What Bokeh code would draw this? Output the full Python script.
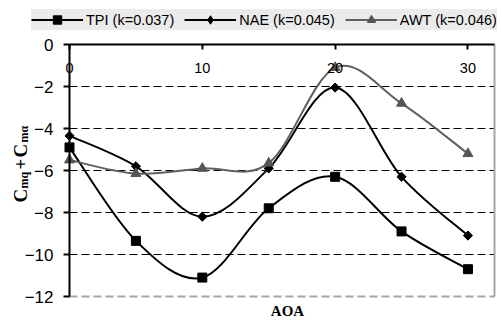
import numpy as np
from math import pi
from bokeh.plotting import figure
from bokeh.models import (LinearAxis, FixedTicker, Range1d, Legend, LegendItem,
                          Label, ColumnDataSource)
from bokeh.embed import file_html
from bokeh.resources import INLINE

# ---- data ----
aoa = [0, 5, 10, 15, 20, 25, 30]
tpi = [-4.9, -9.35, -11.1, -7.8, -6.3, -8.9, -10.7]
nae = [-4.35, -5.8, -8.2, -5.9, -2.05, -6.3, -9.1]
awt = [-5.5, -6.15, -5.9, -5.65, -1.1, -2.8, -5.2]
series_names = ["TPI (k=0.037)", "NAE (k=0.045)", "AWT (k=0.046)"]
x_ticks = [0, 10, 20, 30]
y_ticks = [-12, -10, -8, -6, -4, -2, 0]
grid_ticks = [-10, -8, -6, -4, -2]
x_label = "AOA"
x_lim = (0, 32)
y_lim = (-12, 0)

SANS = "Liberation Sans"
SERIF = "Liberation Serif"

W, H = 502, 320
# pixel placement of the plotting area inside the canvas
PX_LEFT, PX_RIGHT, PX_TOP, PX_BOTTOM = 69, 494, 44, 296


def bezier_source(x, y):
    """Smooth (Catmull-Rom style) cubic segments between the data points."""
    x = np.asarray(x, float)
    y = np.asarray(y, float)
    n = len(x)
    xp = np.concatenate([[x[0]], x, [x[-1]]])
    yp = np.concatenate([[y[0]], y, [y[-1]]])
    return ColumnDataSource(dict(
        x0=x[:-1], y0=y[:-1], x1=x[1:], y1=y[1:],
        cx0=x[:-1] + (xp[2:n + 1] - xp[0:n - 1]) / 6.0,
        cy0=y[:-1] + (yp[2:n + 1] - yp[0:n - 1]) / 6.0,
        cx1=x[1:] - (xp[3:n + 2] - xp[1:n]) / 6.0,
        cy1=y[1:] - (yp[3:n + 2] - yp[1:n]) / 6.0,
    ))


# ranges chosen so the frame fills the canvas and the data area lands where it should
sx = (PX_RIGHT - PX_LEFT) / (x_lim[1] - x_lim[0])
sy = (PX_BOTTOM - PX_TOP) / (y_lim[1] - y_lim[0])
xr = Range1d(x_lim[0] - PX_LEFT / sx, x_lim[1] + (W - PX_RIGHT) / sx)
yr = Range1d(y_lim[0] - (H - PX_BOTTOM) / sy, y_lim[1] + PX_TOP / sy)

p = figure(width=W, height=H, x_range=xr, y_range=yr,
           output_backend="svg", toolbar_location=None,
           x_axis_location=None, y_axis_location=None,
           min_border=0)
p.outline_line_color = None
p.background_fill_color = "white"
p.border_fill_color = "white"
p.xgrid.visible = False
p.ygrid.visible = False

# horizontal dashed grid lines, limited to the plot area
n_g = len(grid_ticks)
p.segment(x0=[x_lim[0]] * n_g, y0=grid_ticks, x1=[x_lim[1]] * n_g, y1=grid_ticks,
          line_color="black", line_width=1, line_dash="8 4")
# plot-area edges (gray): bottom dashed, right solid
p.segment(x0=[x_lim[0]], y0=[y_lim[0]], x1=[x_lim[1]], y1=[y_lim[0]],
          line_color="#a6a6a6", line_width=2, line_dash="8 4")
p.segment(x0=[x_lim[1]], y0=[y_lim[0]], x1=[x_lim[1]], y1=[y_lim[1]],
          line_color="#a6a6a6", line_width=2)

# y axis on x = 0
yax = LinearAxis(fixed_location=0, bounds=y_lim, ticker=FixedTicker(ticks=y_ticks),
                 axis_line_width=2, axis_line_color="black",
                 major_tick_line_width=2, major_tick_out=6, major_tick_in=0,
                 minor_tick_line_color=None, major_label_text_font=SANS,
                 major_label_text_font_size="17px", major_label_standoff=10,
                 major_label_text_color="black")
p.add_layout(yax, "left")

# x axis sitting on y = 0 (top of plot), labels below it
xax = LinearAxis(fixed_location=0, bounds=x_lim, ticker=FixedTicker(ticks=x_ticks),
                 axis_line_width=2, axis_line_color="black", major_tick_line_width=2,
                 major_tick_out=5, major_tick_in=0, minor_tick_line_color=None,
                 major_label_text_font=SANS, major_label_text_font_size="14.5px",
                 major_label_standoff=13, major_label_text_color="black")
p.add_layout(xax, "below")

styles = [
    dict(y=tpi, color="black", mcolor="black", marker="square", size=9),
    dict(y=nae, color="black", mcolor="black", marker="diamond", size=8),
    dict(y=awt, color="#606060", mcolor="#555555", marker="triangle", size=10),
]

items = []
for name, st in zip(series_names, styles):
    bz = p.bezier(x0="x0", y0="y0", x1="x1", y1="y1", cx0="cx0", cy0="cy0", cx1="cx1",
                  cy1="cy1", source=bezier_source(aoa, st["y"]), line_color=st["color"],
                  line_width=2)
    sc = p.scatter(aoa, st["y"], marker=st["marker"], size=st["size"],
                   fill_color=st["mcolor"], line_color=st["mcolor"])
    if st["marker"] == "diamond":
        # the plotted NAE markers are squares turned by 45 degrees (covering the diamonds)
        p.scatter(aoa, st["y"], marker="square", size=6.5, angle=pi / 4,
                  fill_color=st["mcolor"], line_color=st["mcolor"])
    items.append(LegendItem(label=name, renderers=[bz, sc]))

legend = Legend(items=items, orientation="horizontal", location=(31, H - 30),
                glyph_width=52, glyph_height=21, label_standoff=3, spacing=10, padding=2,
                margin=0, background_fill_color="#ebebeb", background_fill_alpha=1,
                border_line_color=None, label_text_font=SANS, label_text_font_size="14.5px",
                label_text_color="black")
p.add_layout(legend, "center")

# x-axis title
p.add_layout(Label(x=287, y=H - 310, x_units="screen", y_units="screen", text=x_label,
                   text_font=SERIF, text_font_style="bold", text_font_size="15px",
                   text_align="center", text_baseline="middle", text_color="black"))

# y-axis title  C_mq + C_mα  (rotated), screen units measured from canvas bottom-left
pieces = [("C", 20, 202, "19px"), ("mq", 23, 188, "12px"), ("+", 20, 169, "19px"),
          ("C", 20, 157, "19px"), ("mα", 23, 142, "12px")]
for txt, px, py, fs in pieces:
    p.add_layout(Label(x=px, y=H - py, x_units="screen", y_units="screen", text=txt,
                       angle=pi / 2, text_font=SERIF, text_font_style="bold",
                       text_font_size=fs, text_align="left", text_baseline="alphabetic",
                       text_color="black"))

open("out.html", "w").write(file_html(p, INLINE))
